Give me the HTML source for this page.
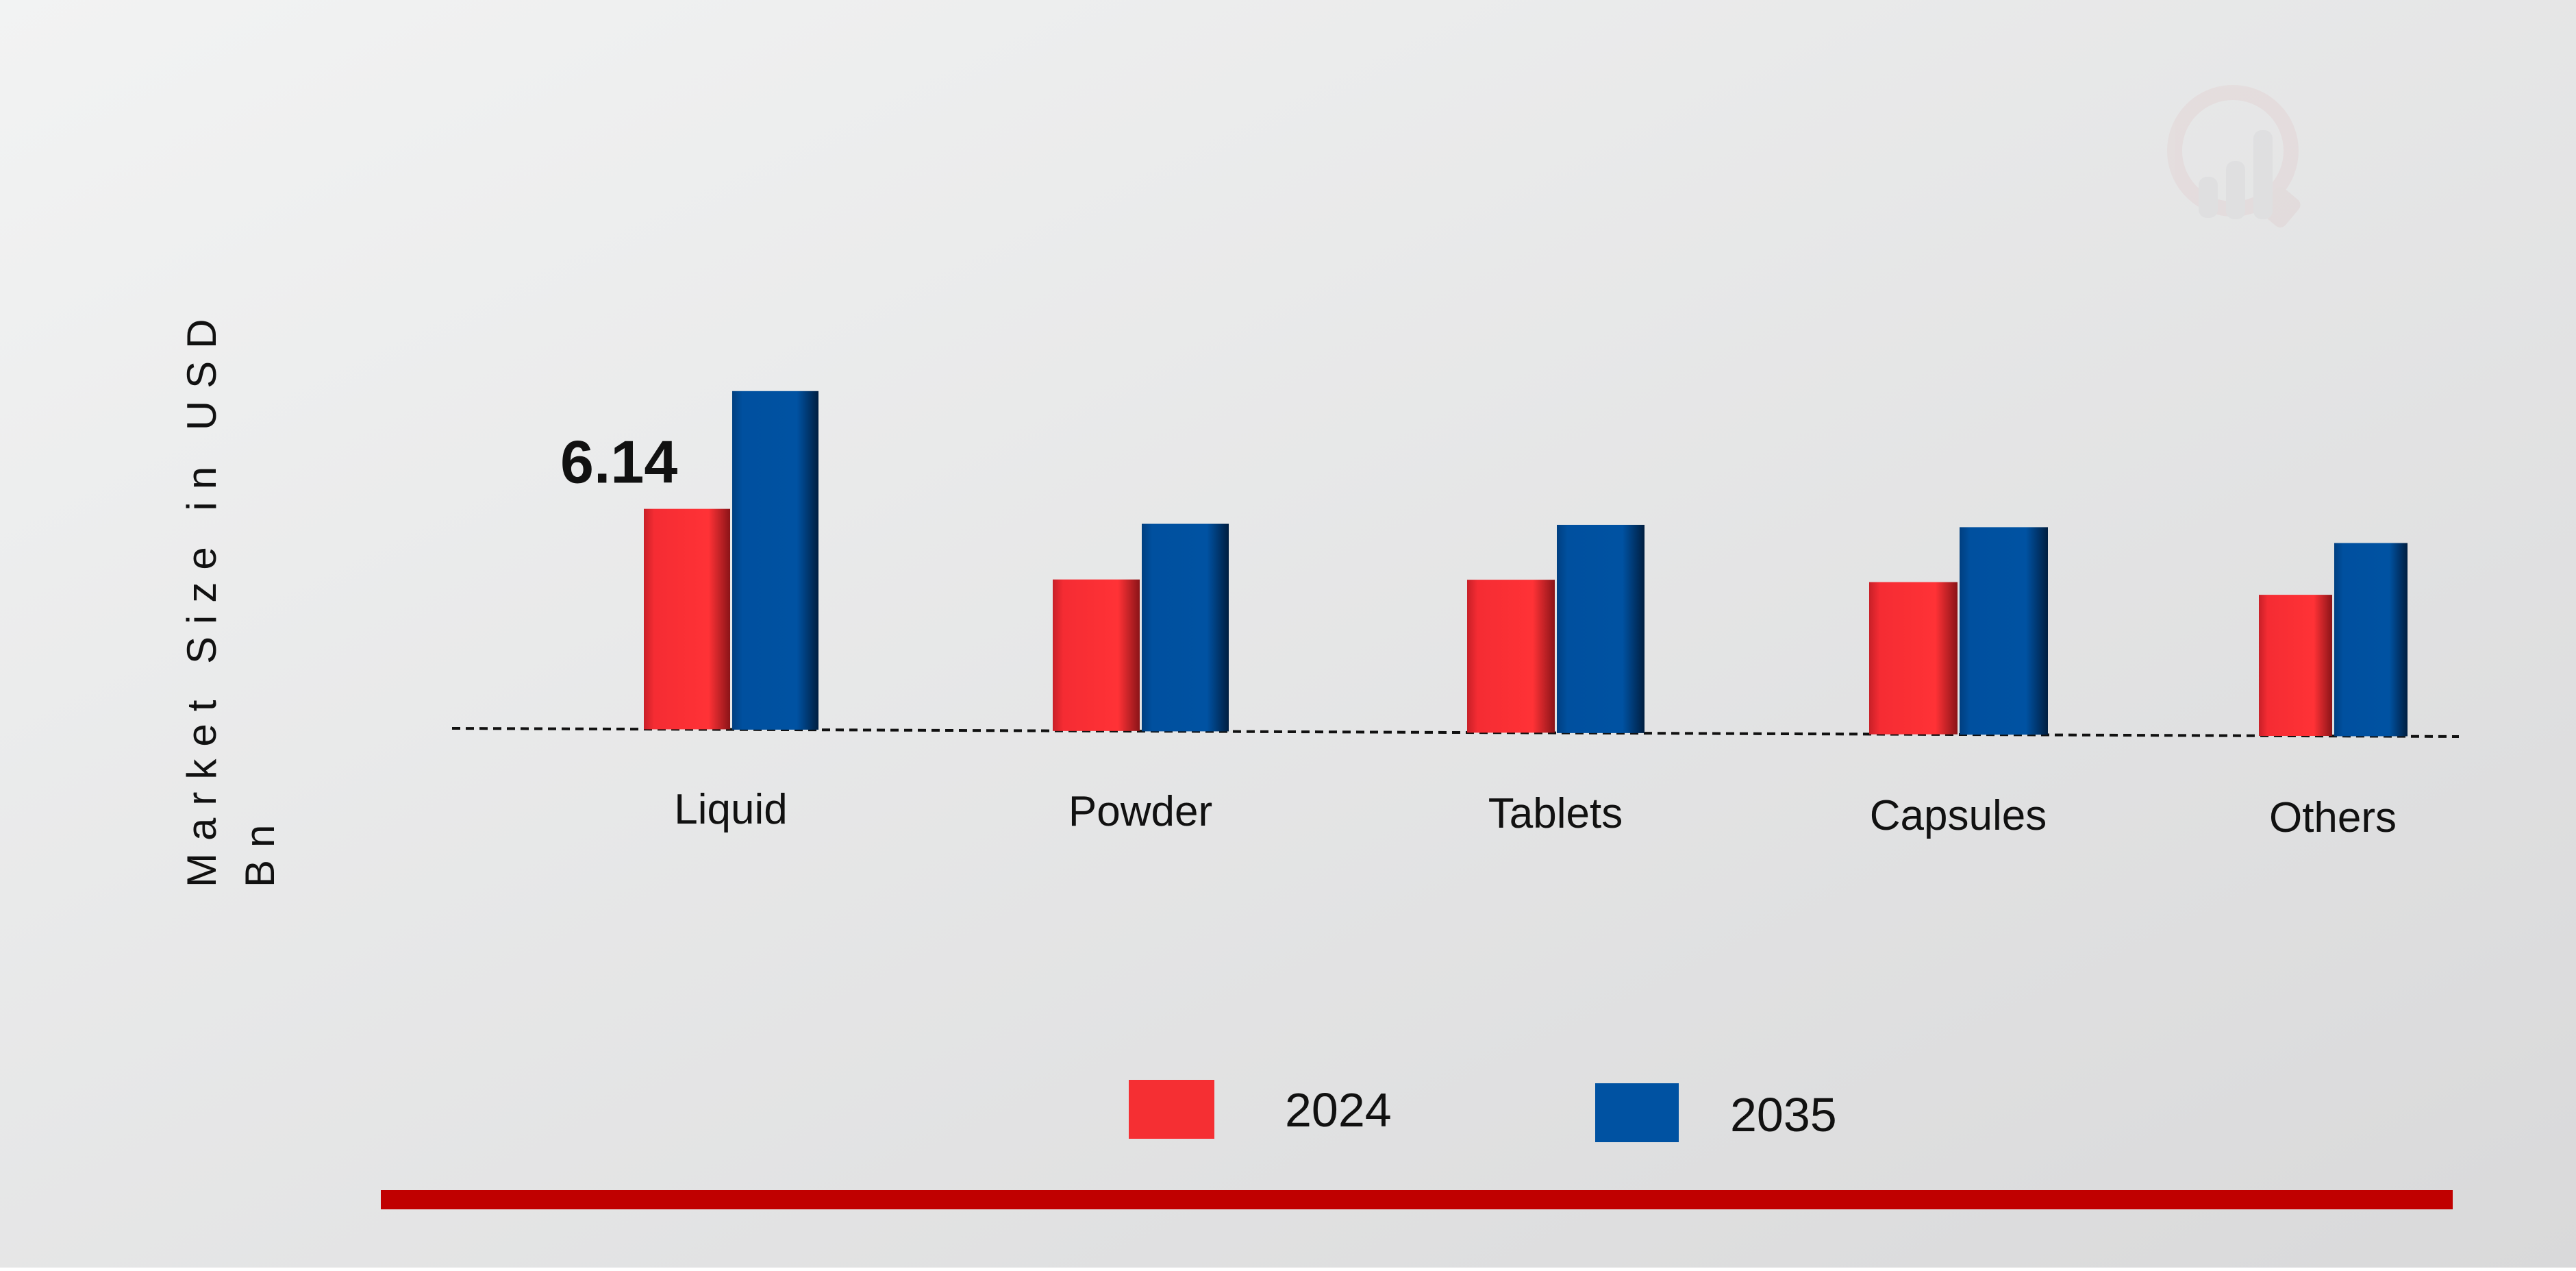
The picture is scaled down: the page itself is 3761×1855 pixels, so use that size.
<!DOCTYPE html>
<html><head><meta charset="utf-8"><style>
html,body{margin:0;padding:0}
body{width:3761px;height:1850px;overflow:hidden;font-family:"Liberation Sans",sans-serif;}
</style></head><body>
<svg width="3761" height="1850" viewBox="0 0 3761 1850" xmlns="http://www.w3.org/2000/svg">
<defs>
<linearGradient id="bg" x1="0" y1="0" x2="1" y2="1"><stop offset="0" stop-color="#f2f3f3"/><stop offset="1" stop-color="#d9d9da"/></linearGradient>
<linearGradient id="gr" x1="0" y1="0" x2="1" y2="0"><stop offset="0" stop-color="#c82028"/><stop offset="0.12" stop-color="#f52c33"/><stop offset="0.75" stop-color="#ff3236"/><stop offset="1" stop-color="#8a1418"/></linearGradient>
<linearGradient id="gb" x1="0" y1="0" x2="1" y2="0"><stop offset="0" stop-color="#003f80"/><stop offset="0.12" stop-color="#00509f"/><stop offset="0.75" stop-color="#0052a2"/><stop offset="1" stop-color="#001e40"/></linearGradient>
</defs>
<rect width="3761" height="1850" fill="url(#bg)"/>
<g opacity="0.45">
<circle cx="3260" cy="220" r="85" fill="none" stroke="#e2d2d3" stroke-width="22"/>
<rect x="3315" y="275" width="45" height="50" rx="10" fill="#e0d0d1" transform="rotate(40 3330 290)"/>
<rect x="3210" y="258" width="28" height="60" rx="12" fill="#d8d8da"/>
<rect x="3250" y="235" width="28" height="85" rx="12" fill="#d8d8da"/>
<rect x="3290" y="190" width="28" height="130" rx="12" fill="#d8d8da"/>
</g>
<g id="plot"></g>
<text transform="translate(315,1295) rotate(-90)" text-anchor="start" font-size="60" letter-spacing="18" fill="#111">Market Size in USD</text>
<text transform="translate(400,1295) rotate(-90)" text-anchor="start" font-size="60" letter-spacing="18" fill="#111">Bn</text>
<rect x="1648" y="1576" width="125" height="86" fill="#f52f33"/>
<text x="1876" y="1644" font-size="70" fill="#111">2024</text>
<rect x="2329" y="1581" width="122" height="86" fill="#0052a2"/>
<text x="2526" y="1651" font-size="70" fill="#111">2035</text>
<rect x="556" y="1737" width="3025" height="28" fill="#c00000"/>
</svg>
<script>
const categories = ["Liquid","Powder","Tablets","Capsules","Others"];
const values2024 = [6.14,4.22,4.26,4.24,3.93];
const values2035 = [9.43,5.78,5.80,5.78,5.38];
const dataLabel = "6.14";

const NS="http://www.w3.org/2000/svg";
const g=document.getElementById('plot');
const groupX=[940,1537,2142,2729,3298];
const barW=[126,127,128,129,107];
const pxPerUnit=52.4;
function baseY(x){return 1063+(x-660)*(12/2930);}
function yScale(v,x){return baseY(x)-v*pxPerUnit;}
const line=document.createElementNS(NS,'line');


line.setAttribute('x1',660);line.setAttribute('y1',baseY(660));
line.setAttribute('x2',3590);line.setAttribute('y2',baseY(3590));
line.setAttribute('stroke','#111');line.setAttribute('stroke-width','4');line.setAttribute('stroke-dasharray','12 8');
g.appendChild(line);
function bar(x,w,v,fill,name){
  const b=baseY(x+w/2),t=yScale(v,x+w/2);
  const r=document.createElementNS(NS,'rect');
  
  
  r.setAttribute('x',x);r.setAttribute('y',t);r.setAttribute('width',w);r.setAttribute('height',b-t);
  r.setAttribute('fill',fill);
  g.appendChild(r);
}
categories.forEach((c,i)=>{
  const x=groupX[i],w=barW[i];
  bar(x,w,values2024[i],'url(#gr)','bar-2024-'+c.toLowerCase());
  bar(x+w+3,w,values2035[i],'url(#gb)','bar-2035-'+c.toLowerCase());
  const t=document.createElementNS(NS,'text');
  
  
  t.setAttribute('x',x+w+1);t.setAttribute('y',1202+i*3);
  t.setAttribute('text-anchor','middle');t.setAttribute('font-size','62');t.setAttribute('fill','#111');
  t.textContent=c;g.appendChild(t);
});
const dl=document.createElementNS(NS,'text');


dl.setAttribute('x',groupX[0]-122);dl.setAttribute('y',yScale(values2024[0],groupX[0])-38);
dl.setAttribute('font-size','88');dl.setAttribute('font-weight','bold');dl.setAttribute('fill','#111');
dl.textContent=dataLabel;g.appendChild(dl);
</script>
</body></html>
